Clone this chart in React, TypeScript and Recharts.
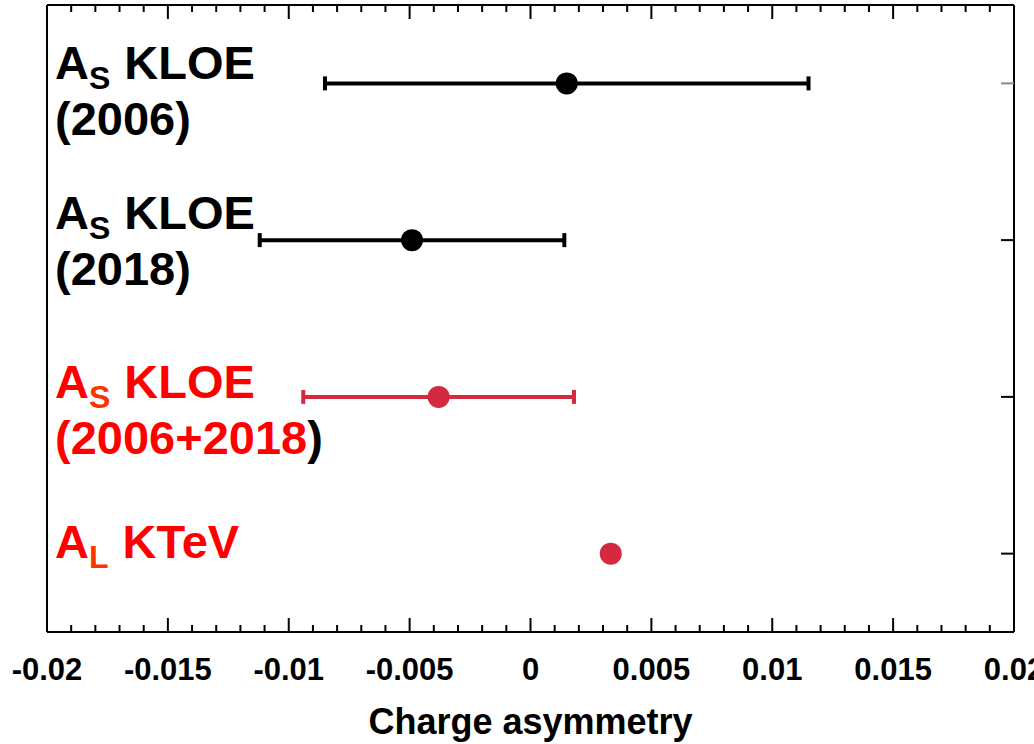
import { ScatterChart, Scatter, XAxis, YAxis, ErrorBar } from 'recharts';

// one row per measurement, top to bottom
const rowPos = [3.5, 2.5, 1.5, 0.5];
const rowSub = ['S', 'S', 'S', 'L'];
const rowName = ['KLOE', 'KLOE', 'KLOE', 'KTeV'];
const rowYears = ['2006', '2018', '2006+2018', ''];

// values and total errors
const kloeValues = [0.0015, -0.0049];
const kloeErrors = [0.01, 0.0063];
const redValues = [-0.0038, 0.00332];
const redErrors = [0.0056, 0.0001];

const majorTicks = [-0.02, -0.015, -0.01, -0.005, 0, 0.005, 0.01, 0.015, 0.02];
const majorLabels = ['-0.02', '-0.015', '-0.01', '-0.005', '0', '0.005', '0.01', '0.015', '0.02'];

const allTicks: number[] = [];
for (let i = -20; i <= 20; i++) allTicks.push(i / 1000);

const blackData = kloeValues.map((x, i) => ({ x, y: rowPos[i], err: kloeErrors[i] }));
const redData = redValues.map((x, i) => ({ x, y: rowPos[i + 2], err: redErrors[i] }));

const FONT = '"Liberation Sans", Arial, sans-serif';
const BLACK = '#000';
const RED = '#d42a40';
const LABEL_RED = '#ff0000';
const SUB_RED = '#ff3300';

// labels were placed by hand in the original, not exactly on the rows
const labelShift = [-4, -11, 1, 4];

function majorIndex(v: number) {
  return majorTicks.findIndex((m) => Math.abs(m - v) < 1e-9);
}

const BottomTick = (props: any) => {
  const { x, y, payload } = props;
  const idx = majorIndex(payload.value);
  const len = idx >= 0 ? 14 : 7;
  return (
    <g>
      <line x1={x} y1={y} x2={x} y2={y - len} stroke="#000" strokeWidth={2} />
      {idx >= 0 && (
        <text x={x} y={y + 48} textAnchor="middle" fontFamily={FONT} fontWeight="bold" fontSize={31} fill="#000">
          {majorLabels[idx]}
        </text>
      )}
    </g>
  );
};

const TopTick = (props: any) => {
  const { x, y, payload } = props;
  const len = majorIndex(payload.value) >= 0 ? 14 : 7;
  return <line x1={x} y1={y} x2={x} y2={y + len} stroke="#000" strokeWidth={2} />;
};

const RightTick = (props: any) => {
  const { x, y, payload } = props;
  const top = payload.value === rowPos[0];
  return <line x1={x} y1={y} x2={x - 13} y2={y} stroke={top ? '#888' : '#000'} strokeWidth={2} />;
};

const RowLabel = (props: any) => {
  const { x, y, payload } = props;
  const i = rowPos.indexOf(payload.value);
  if (i < 0) return null;
  const red = i >= 2;
  const main = red ? LABEL_RED : BLACK;
  const sub = red ? SUB_RED : BLACK;
  const tx = x + 8;
  const by = y + labelShift[i];
  return (
    <g fontFamily={FONT} fontWeight="bold">
      <text x={tx} y={by} fontSize={47} fill={main}>
        A
        <tspan fontSize={32} dy={10} fill={sub}>{rowSub[i]}</tspan>
        <tspan dy={-10} dx={14}>{rowName[i]}</tspan>
      </text>
      {rowYears[i] && (
        <text x={tx} y={by + 56} fontSize={47} fill={main}>
          ({rowYears[i]}
          <tspan fill={BLACK}>)</tspan>
        </text>
      )}
    </g>
  );
};

const Dot = (color: string) => (p: any) => <circle cx={p.cx} cy={p.cy} r={11} fill={color} />;

export default function App() {
  return (
    <div style={{ position: 'absolute', left: 0, top: 0, width: 1034, height: 744, background: '#fff' }}>
      <ScatterChart width={1034} height={744} margin={{ top: 4, right: 19, bottom: 52, left: 46 }}>
        <XAxis
          type="number"
          dataKey="x"
          domain={[-0.02, 0.02]}
          ticks={allTicks}
          interval={0}
          tickSize={0}
          tickMargin={0}
          tickLine={false}
          tick={<BottomTick />}
          height={60}
          axisLine={{ stroke: '#000', strokeWidth: 2 }}
          allowDataOverflow
          label={{
            value: 'Charge asymmetry',
            position: 'insideBottom',
            offset: -42,
            style: { fontFamily: FONT, fontWeight: 'bold', fontSize: 36, fill: '#000' },
          }}
        />
        <XAxis
          xAxisId="top"
          orientation="top"
          type="number"
          dataKey="x"
          domain={[-0.02, 0.02]}
          ticks={allTicks}
          interval={0}
          tickSize={0}
          tickMargin={0}
          tickLine={false}
          tick={<TopTick />}
          height={1}
          axisLine={{ stroke: '#000', strokeWidth: 2 }}
          allowDataOverflow
        />
        <YAxis
          type="number"
          dataKey="y"
          domain={[0, 4]}
          ticks={rowPos}
          interval={0}
          width={1}
          tickSize={0}
          tickMargin={0}
          tickLine={false}
          tick={<RowLabel />}
          axisLine={{ stroke: '#000', strokeWidth: 2 }}
        />
        <YAxis
          yAxisId="right"
          orientation="right"
          type="number"
          dataKey="y"
          domain={[0, 4]}
          ticks={rowPos}
          interval={0}
          width={1}
          tickSize={0}
          tickMargin={0}
          tickLine={false}
          tick={<RightTick />}
          axisLine={{ stroke: '#000', strokeWidth: 2 }}
        />
        <Scatter data={blackData} shape={Dot(BLACK)} isAnimationActive={false}>
          <ErrorBar dataKey="err" direction="x" width={7} stroke={BLACK} strokeWidth={4} />
        </Scatter>
        <Scatter yAxisId="right" data={redData} shape={Dot(RED)} isAnimationActive={false}>
          <ErrorBar dataKey="err" direction="x" width={7} stroke={RED} strokeWidth={4} />
        </Scatter>
      </ScatterChart>
    </div>
  );
}
